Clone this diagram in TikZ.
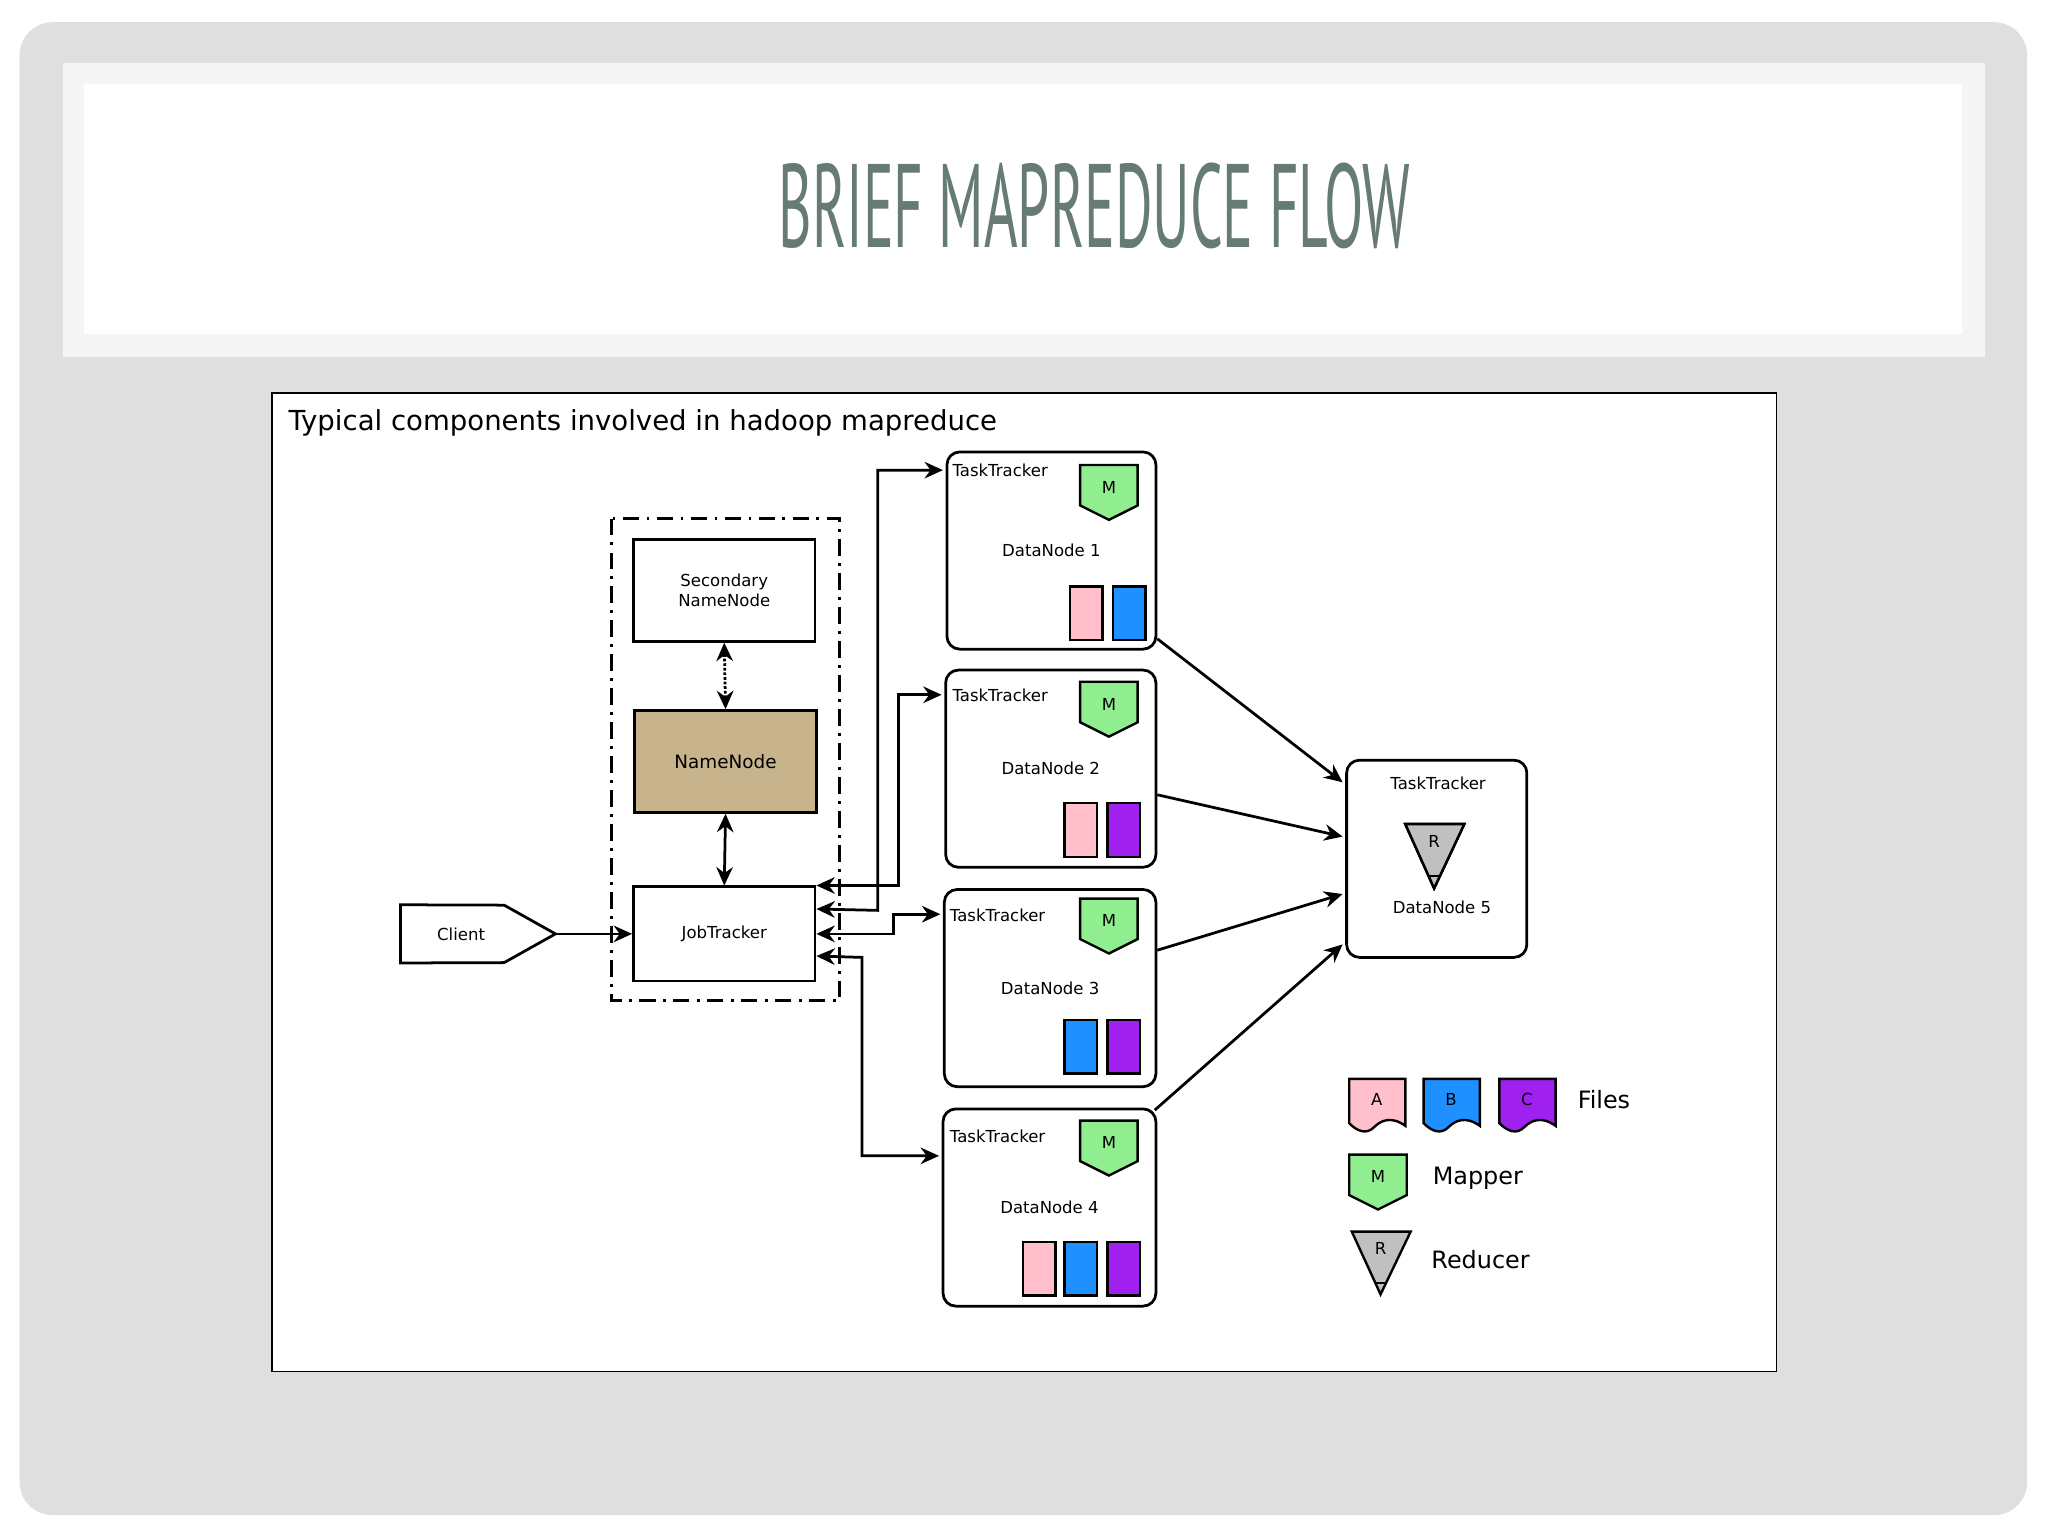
\documentclass[tikz,border=0pt]{standalone}
\usepackage{fontspec}
\setmainfont{DejaVu Sans}
\newfontfamily\titlefont{PT Sans}
\usetikzlibrary{arrows.meta,calc}

\definecolor{nnTan}{HTML}{C8B48C}
\definecolor{filea}{HTML}{FFC0CB}
\definecolor{fileb}{HTML}{1E90FF}
\definecolor{filec}{HTML}{A020F0}
\definecolor{mapgreen}{HTML}{90EE90}
\definecolor{redgray}{HTML}{C0C0C0}
\definecolor{titlegray}{HTML}{667A76}

\tikzset{
  box/.style={draw, line width=1.5pt, fill=white, font=\fontsize{9}{10.5}\selectfont, align=center},
  datanode/.style={box, rounded corners=7pt},
  link/.style={line width=1.5pt, -{Stealth[length=10pt,width=9pt]}},
  biLink/.style={line width=1.5pt, {Stealth[length=10pt,width=9pt]}-{Stealth[length=10pt,width=9pt]}},
  small/.style={font=\fontsize{9}{10.5}\selectfont},
  legend/.style={font=\fontsize{13}{15}\selectfont, anchor=west}
}

% mapper shape, top left corner at (#1,#2)
\newcommand\mapshape[2]{%
  \draw[line width=1.3pt, fill=mapgreen] (#1,#2) -- ++(44,0) -- ++(0,31) -- ++(-22,11) -- ++(-22,-11) -- cycle;
  \node[small] at (#1+22,#2+17) {M};}
% file block, top left corner at (#1,#2)
\newcommand\fileblock[3]{%
  \draw[line width=1.3pt, fill=#3] (#1,#2) rectangle ++(25,41);}
% legend file, top left corner at (#1,#2)
\newcommand\filesheet[4]{%
  \draw[line width=1.3pt, fill=#3] (#1,#2) -- ++(43,0) -- ++(0,36)
    .. controls (#1+32,#2+28) and (#1+24,#2+32) .. (#1+19,#2+37)
    .. controls (#1+13,#2+43) and (#1+6,#2+40) .. (#1,#2+34) -- cycle;
  \node[small] at (#1+21,#2+16) {#4};}

\begin{document}
\begin{tikzpicture}[x=0.025cm, y=-0.025cm]
\useasboundingbox (0,0) rectangle (1568,1176);

% slide background
\fill[white] (0,0) rectangle (1568,1176);
\fill[gray!25, rounded corners=18pt] (15,17) rectangle (1552,1160);
\fill[gray!8] (48,48) rectangle (1520,273);
\fill[white] (64,64) rectangle (1502,256);
\node[text=titlegray, inner sep=0pt] (title) at (838,158)
  {\resizebox{344pt}{46pt}{\titlefont BRIEF MAPREDUCE FLOW}};

% diagram frame
\draw[fill=white, line width=0.9pt] (208,301) rectangle (1360,1050);
\node[anchor=west, font=\fontsize{15}{18}\selectfont] (caption) at (216,324)
  {Typical components involved in hadoop mapreduce};

% master side
\draw[line width=1.5pt, dash pattern=on 9pt off 4pt on 1.5pt off 4pt] (468,397) rectangle (643,766);
\node[box, minimum width={139*0.025cm}, minimum height={78*0.025cm}] (secnn) at (554.5,452) {Secondary\\NameNode};
\node[box, fill=nnTan, minimum width={139*0.025cm}, minimum height={78*0.025cm},
  font=\fontsize{10}{12}\selectfont] (nn) at (555.5,583) {NameNode};
\node[box, minimum width={139*0.025cm}, minimum height={72*0.025cm}] (jt) at (554.5,715) {JobTracker};
\node[minimum width={118*0.025cm}, minimum height={44*0.025cm}, inner sep=0pt] (client) at (366,715) {};
\draw[line width=1.5pt, fill=white] (client.north west) -- (386,693) -- (client.east) -- (386,737)
  -- (client.south west) -- cycle;
\node[small] at (353,715) {Client};

% task trackers
\node[datanode, minimum width={160*0.025cm}, minimum height={151*0.025cm}] (dn1) at (805,421.5) {DataNode 1};
\node[datanode, minimum width={161*0.025cm}, minimum height={151*0.025cm}] (dn2) at (804.5,588.5) {DataNode 2};
\node[datanode, minimum width={162*0.025cm}, minimum height={151*0.025cm}] (dn3) at (804,756.5) {DataNode 3};
\node[datanode, minimum width={163*0.025cm}, minimum height={151*0.025cm}] (dn4) at (803.5,924.5) {DataNode 4};
\node[datanode, minimum width={138*0.025cm}, minimum height={151*0.025cm}] (dn5) at (1100,657.5) {};
\foreach \x/\y in {729/360, 729/532, 727/701, 727/870}
  \node[small, anchor=west, inner sep=0pt] at (\x,\y) {TaskTracker};
\node[small] at (1101,600) {TaskTracker};
\node[small] at (1104,695) {DataNode 5};
\foreach \y in {356, 522, 688, 858}
  \mapshape{827}{\y}
\draw[line width=1.3pt, fill=redgray] (1076,631) -- (1121,631) -- (1098,680) -- cycle;
\draw[line width=1pt] (1094,671) -- (1103,671);
\node[small] at (1098,644) {R};

% file blocks
\fileblock{819}{449}{filea} \fileblock{852}{449}{fileb}
\fileblock{815}{615}{filea} \fileblock{848}{615}{filec}
\fileblock{815}{781}{fileb} \fileblock{848}{781}{filec}
\fileblock{783}{951}{filea} \fileblock{815}{951}{fileb} \fileblock{848}{951}{filec}

% connectors
\draw[biLink, densely dotted] (secnn.south) -- (nn.north);
\draw[biLink] (nn.south) -- (jt.north);
\draw[link] (client.east) -- (jt.west);
\draw[biLink] (jt.north east) -- ++(63,0) |- ($(dn2.north west)+(-2,20)$);
\draw[biLink] ($(jt.north east)+(0,18)$) -- (672,697) |- ($(dn1.north west)+(-2,15)$);
\draw[biLink] (jt.east) -- (684,715) |- ($(dn3.north west)+(-2,20)$);
\draw[biLink] ($(jt.north east)+(0,54)$) -- (660,733) |- ($(dn4.north west)+(-2,37)$);
\draw[link] ($(dn1.south east)+(0,-9)$) -- ($(dn5.north west)+(-2,18)$);
\draw[link] ($(dn2.east)+(0,20)$) -- ($(dn5.west)+(-2,-17)$);
\draw[link] ($(dn3.east)+(0,-29)$) -- ($(dn5.west)+(-2,27)$);
\draw[link] ($(dn4.north east)+(-2,2)$) -- ($(dn5.south west)+(-2,-11)$);

% legend
\filesheet{1033}{826}{filea}{A}
\filesheet{1090}{826}{fileb}{B}
\filesheet{1148}{826}{filec}{C}
\node[legend] (files) at (1203,842) {Files};
\mapshape{1033}{884}
\node[legend] (mapper) at (1092,902) {Mapper};
\draw[line width=1.3pt, fill=redgray] (1035,943) -- (1080,943) -- (1057,991) -- cycle;
\draw[line width=1pt] (1053,982) -- (1062,982);
\node[small] at (1057,956) {R};
\node[legend] (reducer) at (1091,964) {Reducer};
\end{tikzpicture}
\end{document}
